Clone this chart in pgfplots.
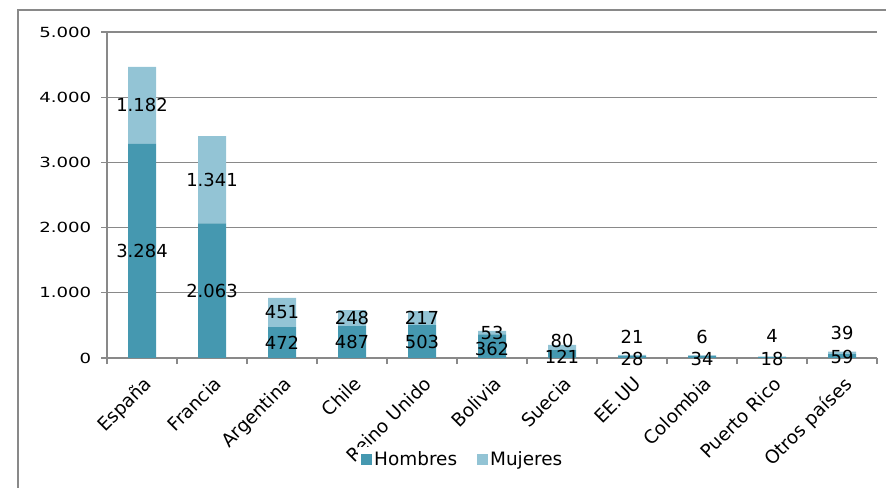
\documentclass[border=0pt]{standalone}
\usepackage{pgfplots}
\usepackage{pgfplotstable}
\pgfplotsset{compat=1.18}
\usepackage{fontspec}
\setmainfont{DejaVu Sans}

\definecolor{hombres}{HTML}{4598B0}
\definecolor{mujeres}{HTML}{93C4D5}
\definecolor{ejes}{HTML}{898989}

% oh, om: desplazamiento de las etiquetas pequenas (unidades de datos)
\pgfplotstableread{
x  h    m    oh   om
0  3284 1182 0    0
1  2063 1341 0    0
2  472  451  0    0
3  487  248  0    0
4  503  217  0    0
5  362  53   -45  0
6  121  80   -40  100
7  28   21   -35  284
8  34   6    -33  285
9  18   4    -24  317
10 59   39   -15  305
}\datos

\begin{document}
\begin{tikzpicture}
  \useasboundingbox (0,0) rectangle (886bp,488bp);
  \draw[ejes, line width=1.5bp] (18bp,0) -- (18bp,478bp) -- (886bp,478bp);
  \begin{axis}[
      at={(107bp,130bp)}, anchor=south west,
      scale only axis,
      width=770bp, height=326bp,
      ybar stacked,
      bar width=0.4,
      xmin=-0.5, xmax=10.5,
      ymin=0, ymax=5000,
      ytick={0,1000,...,5000},
      scaled y ticks=false,
      xtick={0,...,10},
      xticklabels={España,Francia,Argentina,Chile,Reino Unido,Bolivia,Suecia,EE.UU,Colombia,Puerto Rico,Otros países},
      axis x line*=bottom, axis y line*=left,
      axis line style={-, ejes, line width=1.2bp},
      ymajorgrids,
      grid style={ejes, line width=1.2bp},
      tick align=outside,
      major tick length=6bp,
      tick style={ejes, line width=1.2bp},
      xtick style={draw=none},
      extra x ticks={-0.5,0.5,...,10.5},
      extra x tick labels={},
      extra x tick style={xtick style={draw=ejes}},
      /pgf/number format/.cd, 1000 sep={.}, assume math mode=true,
      /pgfplots/.cd,
      yticklabel style={font=\fontsize{14}{16}\selectfont, xscale=1.3, xshift=-4bp},
      xticklabel style={font=\fontsize{18.5}{20}\selectfont, rotate=45, anchor=north east,
        yshift=-5bp, xshift=-4bp},
      nodes near coords,
      nodes near coords align={center},
      every node near coord/.append style={font=\fontsize{18}{20}\selectfont, text=black,
        shift={(axis direction cs:0,\off)}},
      legend style={at={(0.462,-0.31)}, anchor=center, draw=none,
        font=\fontsize{18.5}{20}\selectfont, legend columns=2,
        /tikz/every even column/.append style={column sep=18bp}},
      legend image code/.code={\fill[#1] (0bp,-5.5bp) rectangle (11bp,5.5bp);},
    ]
    \addplot[fill=hombres, draw=none, point meta=explicit,
      visualization depends on={\thisrow{oh} \as \off}]
      table[x=x, y=h, meta=h] {\datos};
    \addplot[fill=mujeres, draw=none, point meta=explicit,
      visualization depends on={\thisrow{om} \as \off}]
      table[x=x, y=m, meta=m] {\datos};
    \legend{Hombres, Mujeres}
  \end{axis}
\end{tikzpicture}
\end{document}
